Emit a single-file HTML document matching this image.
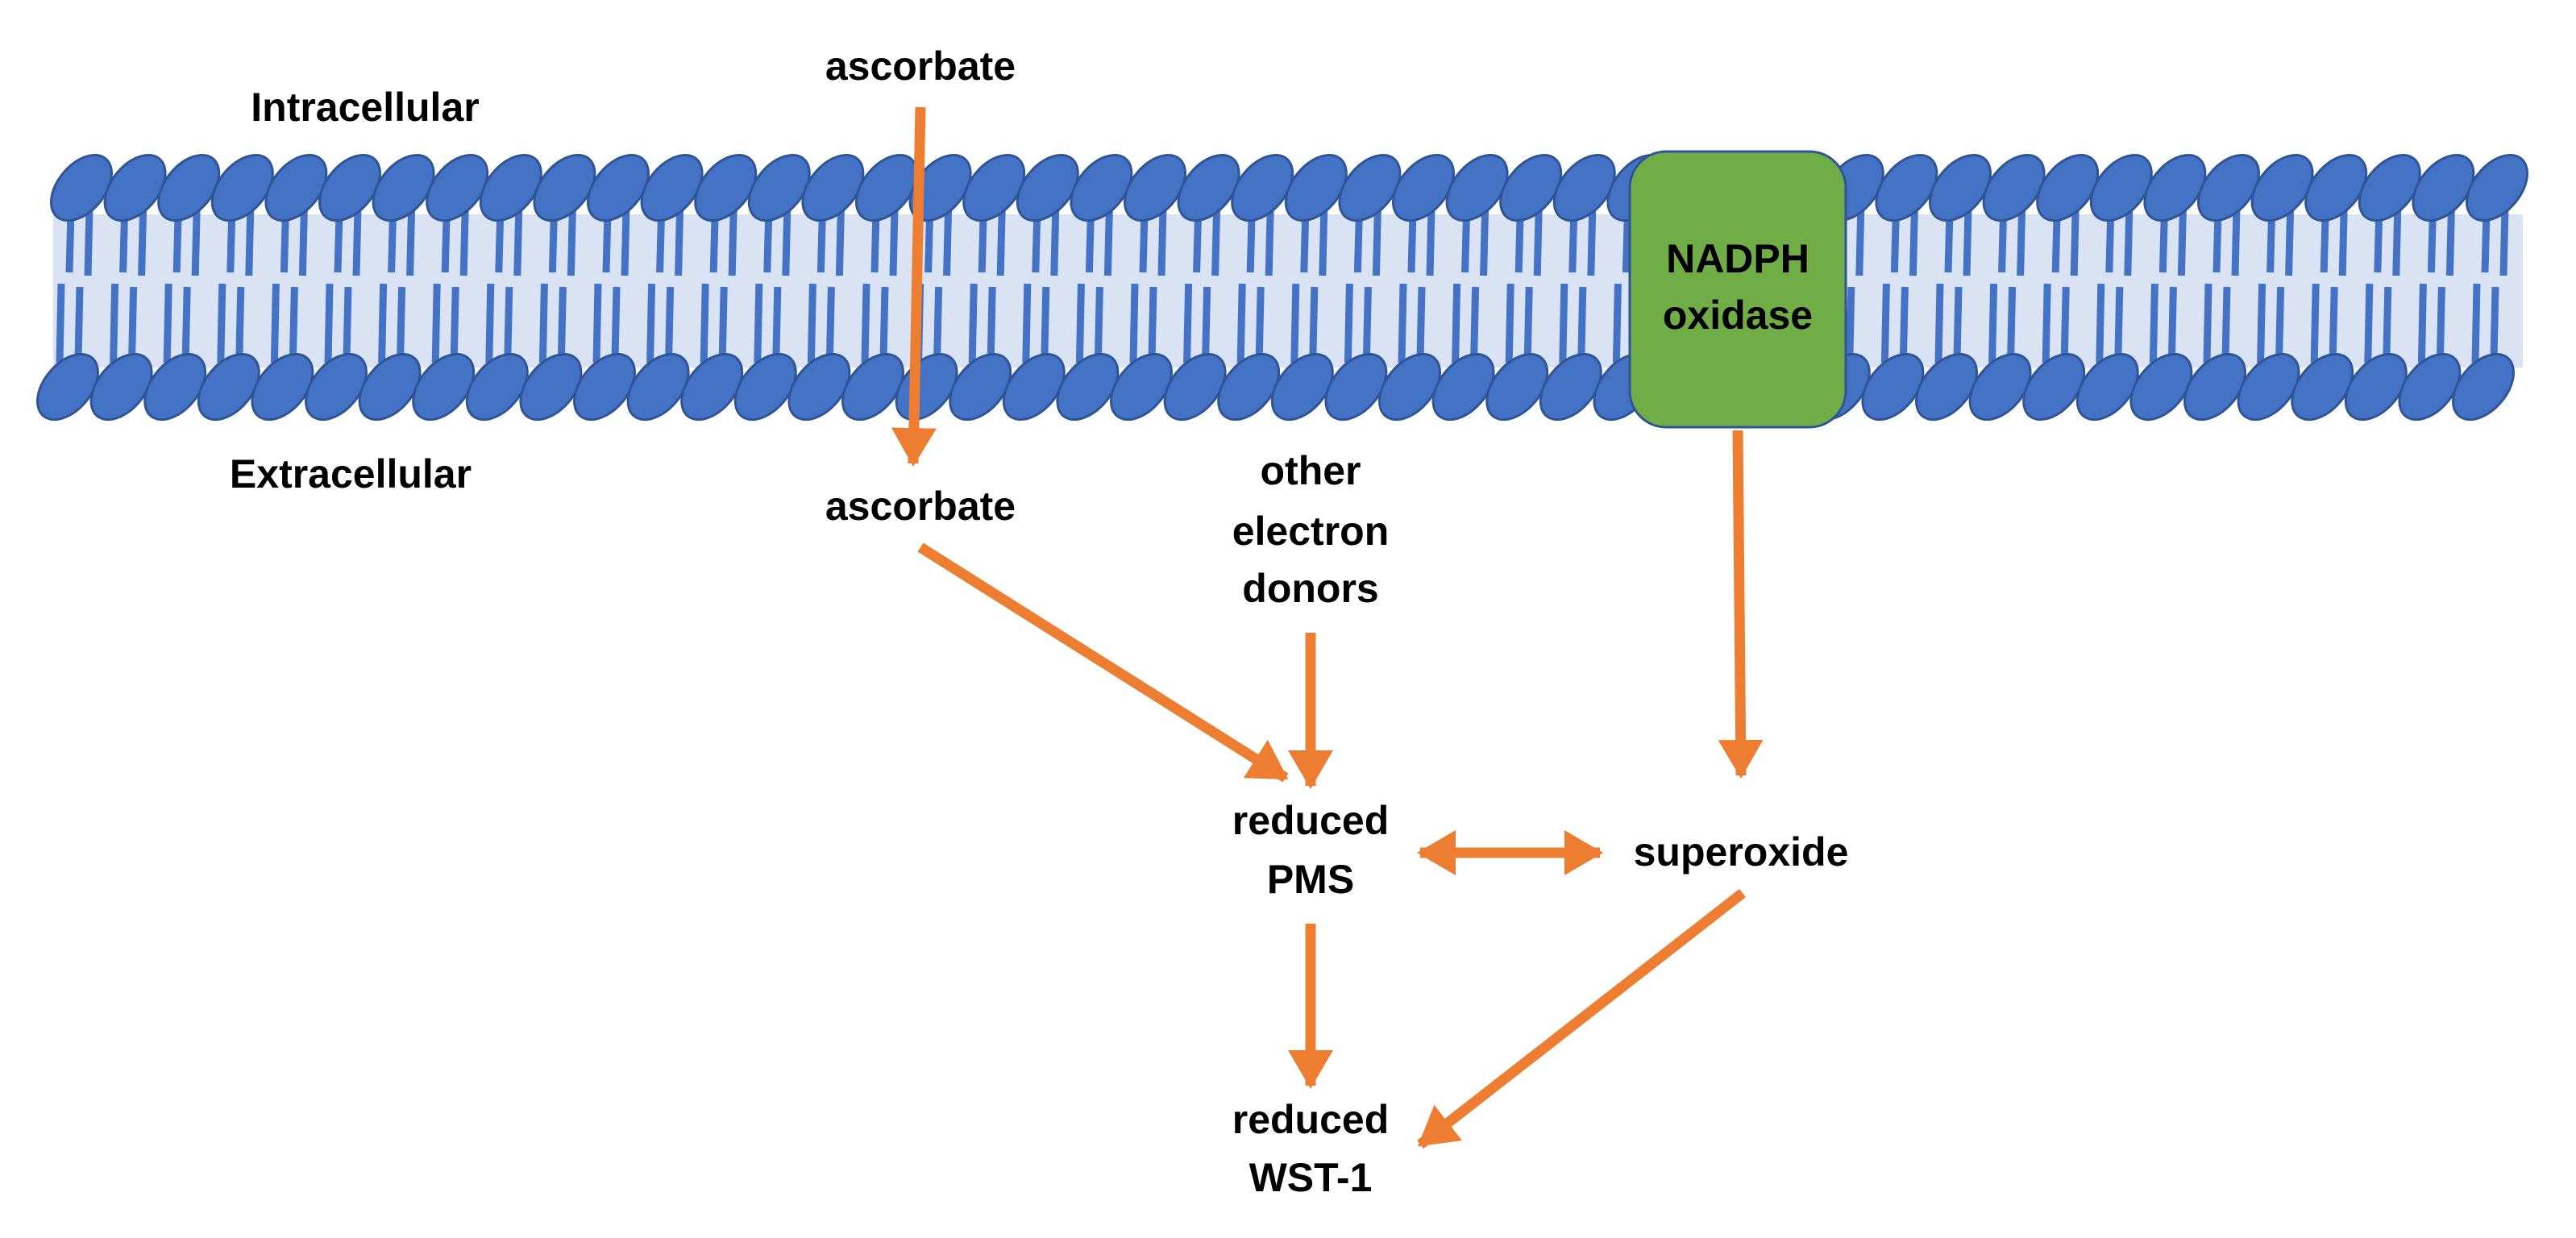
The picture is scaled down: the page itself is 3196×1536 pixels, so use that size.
<!DOCTYPE html>
<html><head><meta charset="utf-8"><style>
html,body{margin:0;padding:0;background:#fff;}
svg{display:block}
text{font-family:"Liberation Sans",sans-serif;font-weight:bold;font-size:50px;fill:#000;text-anchor:middle;dominant-baseline:middle}
</style></head><body>
<svg id="s" width="3196" height="1536" viewBox="0 0 3196 1536" xmlns="http://www.w3.org/2000/svg">
<defs>
<marker id="a" markerUnits="userSpaceOnUse" markerWidth="56" markerHeight="56" refX="44" refY="28" orient="auto-start-reverse" viewBox="0 0 56 56">
<path d="M0,0 L48,28 L0,56 Z" fill="#ED7D31"/>
</marker>
</defs>
<rect x="66" y="266" width="3064" height="190" fill="#DAE3F3"/>
<g id="mem"></g>
<g stroke="#ED7D31" stroke-width="13" fill="none">
<line x1="1142" y1="133" x2="1133" y2="575" marker-end="url(#a)"/>
</g>
<rect x="2022" y="188" width="268" height="342" rx="45" fill="#70AD47" stroke="#2F5597" stroke-width="3"/>
<text x="2156" y="325">NADPH</text>
<text x="2156" y="395">oxidase</text>
<g stroke="#ED7D31" stroke-width="13" fill="none">
<line x1="1142" y1="679" x2="1595" y2="965" marker-end="url(#a)"/>
<line x1="1626" y1="785" x2="1626" y2="975" marker-end="url(#a)"/>
<line x1="1762" y1="1058" x2="1985" y2="1058" marker-start="url(#a)" marker-end="url(#a)"/>
<line x1="2156" y1="534" x2="2160" y2="962" marker-end="url(#a)"/>
<line x1="1626" y1="1146" x2="1626" y2="1347" marker-end="url(#a)"/>
<line x1="2162" y1="1108" x2="1762" y2="1420" marker-end="url(#a)"/>
</g>
<text x="1142" y="86">ascorbate</text>
<text x="453" y="137">Intracellular</text>
<text x="435" y="592">Extracellular</text>
<text x="1142" y="632">ascorbate</text>
<text x="1626" y="588">other</text>
<text x="1626" y="663">electron</text>
<text x="1626" y="734">donors</text>
<text x="1626" y="1022">reduced</text>
<text x="1626" y="1095">PMS</text>
<text x="2160" y="1061">superoxide</text>
<text x="1626" y="1393">reduced</text>
<text x="1626" y="1465">WST-1</text>
</svg>
<script>
(function(){
var g=document.getElementById('mem'),tails='',heads='';
var sp=66.6;
for(var i=0;i<47;i++){
  var xt=101+i*sp, xb=84+i*sp;
  if(xt<3110){
    tails+='<line x1="'+(xt-13)+'" y1="262" x2="'+(xt-15)+'" y2="338"/>';
    tails+='<line x1="'+(xt+10)+'" y1="258" x2="'+(xt+8)+'" y2="342"/>';
    heads+='<ellipse cx="'+xt+'" cy="233" rx="47" ry="29" transform="rotate(-50 '+xt+' 233)"/>';
  }
  if(xb<3110){
    tails+='<line x1="'+(xb-8)+'" y1="352" x2="'+(xb-10)+'" y2="450"/>';
    tails+='<line x1="'+(xb+15)+'" y1="356" x2="'+(xb+13)+'" y2="446"/>';
    heads+='<ellipse cx="'+xb+'" cy="480" rx="47" ry="29" transform="rotate(-50 '+xb+' 480)"/>';
  }
}
g.innerHTML='<g stroke="#4472C4" stroke-width="9">'+tails+'</g><g fill="#4472C4" stroke="#2F5597" stroke-width="3">'+heads+'</g>';
})();
</script>
</body></html>
